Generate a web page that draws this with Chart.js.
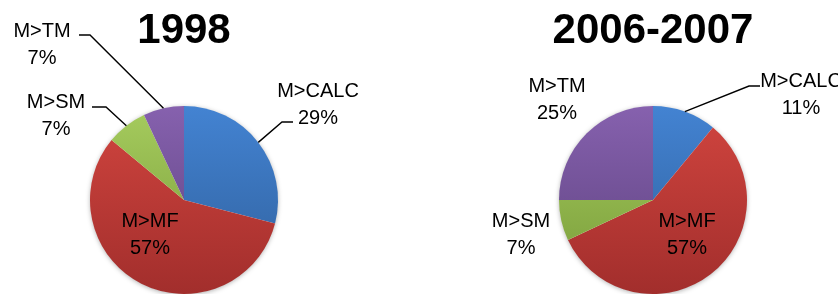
<!DOCTYPE html>
<html>
<head>
<meta charset="utf-8">
<script src="https://cdn.jsdelivr.net/npm/chart.js@4.4.1/dist/chart.umd.min.js"></script>
<style>
  body { margin: 0; background: #fff; }
  #wrap { position: relative; width: 838px; height: 294px; overflow: hidden; }
  canvas { position: absolute; top: 0; }
</style>
</head>
<body>
<div id="wrap">
  <canvas id="pie1998" width="368" height="294" style="left:0"></canvas>
  <canvas id="pie2006" width="370" height="294" style="left:468px"></canvas>
</div>
<script>
// data
const categories = ['M>CALC', 'M>MF', 'M>SM', 'M>TM'];
const values1998 = [29, 57, 7, 7];
const values2006 = [11, 57, 7, 25];

// gradient colors per slice (top, bottom)
const sliceColors = [
    ['#4383d2', '#2f5f9b'],
    ['#d1453f', '#a22e2c'],
    ['#a6cc5e', '#779a38'],
    ['#8661ae', '#5c417e']
];

// where the labels go, relative to the pie center (text center x, first baseline y)
// leader: [elbow, tail end] also relative to the center
const layout1998 = [
    { dx: 134, dy: -103, leader: [[98, -78], [109, -78]] },
    { dx: -34, dy: 27 },
    { dx: -128, dy: -92, leader: [[-78, -93], [-92, -93]] },
    { dx: -142, dy: -163, leader: [[-94, -165], [-105, -165]] }
];
const layout2006 = [
    { dx: 148, dy: -113, leader: [[96, -114], [107, -114]] },
    { dx: 34, dy: 27 },
    { dx: -132, dy: 27 },
    { dx: -96, dy: -108 }
];

function sliceGradient(context) {
    const chart = context.chart;
    const area = chart.chartArea;
    if (!area) return sliceColors[context.dataIndex][0];
    const c = sliceColors[context.dataIndex];
    const g = chart.ctx.createLinearGradient(0, area.top, 0, area.bottom);
    g.addColorStop(0, c[0]);
    g.addColorStop(1, c[1]);
    return g;
}

const shadowPlugin = {
    id: 'shadow',
    beforeDatasetsDraw(chart) {
        const arc = chart.getDatasetMeta(0).data[0];
        const ctx = chart.ctx;
        ctx.save();
        ctx.shadowColor = 'rgba(0,0,0,0.35)';
        ctx.shadowBlur = 5;
        ctx.shadowOffsetX = 0;
        ctx.shadowOffsetY = 1;
        ctx.fillStyle = '#fff';
        ctx.beginPath();
        ctx.arc(arc.x, arc.y, arc.outerRadius - 0.5, 0, Math.PI * 2);
        ctx.fill();
        ctx.restore();
    }
};

const labelPlugin = {
    id: 'sliceLabels',
    afterDatasetsDraw(chart, args, opts) {
        const ctx = chart.ctx;
        const meta = chart.getDatasetMeta(0);
        const values = chart.data.datasets[0].data;
        ctx.save();
        ctx.font = '20px "Liberation Sans"';
        ctx.fillStyle = '#000';
        ctx.textAlign = 'center';
        ctx.textBaseline = 'alphabetic';
        ctx.strokeStyle = '#000';
        ctx.lineWidth = 1.4;
        meta.data.forEach((arc, i) => {
            const p = opts.layout[i];
            const cx = arc.x, cy = arc.y;
            if (p.leader) {
                const mid = (arc.startAngle + arc.endAngle) / 2;
                ctx.beginPath();
                ctx.moveTo(cx + Math.cos(mid) * arc.outerRadius, cy + Math.sin(mid) * arc.outerRadius);
                p.leader.forEach(pt => ctx.lineTo(cx + pt[0], cy + pt[1]));
                ctx.stroke();
            }
            ctx.fillText(chart.data.labels[i], cx + p.dx, cy + p.dy);
            ctx.fillText(values[i] + '%', cx + p.dx, cy + p.dy + 27);
        });
        ctx.restore();
    }
};

function makePie(id, title, values, layout) {
    return new Chart(document.getElementById(id), {
        type: 'pie',
        data: {
            labels: categories,
            datasets: [{
                data: values,
                backgroundColor: sliceGradient,
                borderWidth: 0
            }]
        },
        options: {
            responsive: false,
            animation: false,
            layout: { padding: 0 },
            plugins: {
                legend: { display: false },
                tooltip: { enabled: false },
                title: {
                    display: true,
                    text: title,
                    color: '#000',
                    font: { family: '"Liberation Sans"', size: 42, weight: 'bold' },
                    padding: { top: 6, bottom: 49.6 }
                },
                sliceLabels: { layout: layout }
            }
        },
        plugins: [shadowPlugin, labelPlugin]
    });
}

makePie('pie1998', '1998', values1998, layout1998);
makePie('pie2006', '2006-2007', values2006, layout2006);
</script>
</body>
</html>
